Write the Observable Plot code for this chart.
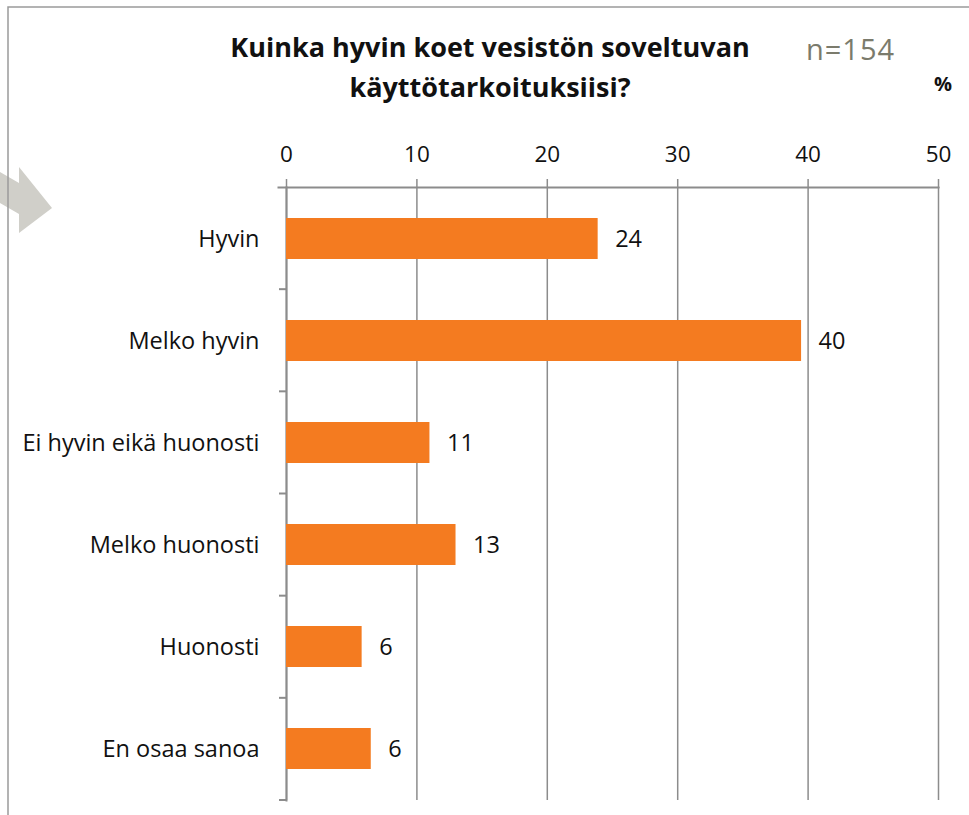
<!DOCTYPE html>
<html>
<head>
<meta charset="utf-8">
<script src="https://cdn.jsdelivr.net/npm/d3@7"></script>
<script src="https://cdn.jsdelivr.net/npm/@observablehq/plot@0.6"></script>
<style>
  html, body { margin: 0; padding: 0; background: #fff; }
  #wrap { position: relative; width: 969px; height: 815px; overflow: hidden; font-family: "Open Sans", sans-serif; }
  #deco { position: absolute; left: 0; top: 0; z-index: 2; pointer-events: none; }
  .t { position: absolute; color: #111; white-space: nowrap; z-index: 3; line-height: 1; }
</style>
</head>
<body>
<div id="wrap">
  <div id="chart"></div>
  <svg id="deco" width="969" height="815">
    <polygon points="0,172 19,183 19,167 52,208 19,233 19,214 0,203" fill="#d0cfc9"/>
    <path d="M8,815 V7 H969" fill="none" stroke="#9a9a9a" stroke-width="1.5"/>
  </svg>
  <div class="t" id="title1" style="left:0;width:980px;text-align:center;top:33px;font-size:27px;font-weight:bold;">Kuinka hyvin koet vesistön soveltuvan</div>
  <div class="t" id="title2" style="left:0;width:980px;text-align:center;top:73px;font-size:27px;font-weight:bold;">käyttötarkoituksiisi?</div>
  <div class="t" style="left:806px;top:34px;font-size:29px;letter-spacing:1px;color:#7b7b6c;">n=154</div>
  <div class="t" style="left:934px;top:74px;font-size:20px;font-weight:bold;">%</div>
</div>
<script>
const categories = ["Hyvin", "Melko hyvin", "Ei hyvin eikä huonosti", "Melko huonosti", "Huonosti", "En osaa sanoa"];
const values = [23.9, 39.5, 11.0, 13.0, 5.8, 6.5];
const valueLabels = ["24", "40", "11", "13", "6", "6"];
const xTicks = [0, 10, 20, 30, 40, 50];

const data = categories.map((c, i) => ({category: c, value: values[i], label: valueLabels[i]}));

const gridColor = "#8c8c8c";
const plot = Plot.plot({
  width: 969,
  height: 815,
  marginTop: 187,
  marginLeft: 286,
  marginRight: 31,
  marginBottom: 15,
  style: {fontFamily: "'Open Sans', sans-serif", background: "transparent", color: "#111"},
  x: {domain: [0, 50], axis: null},
  y: {domain: categories, paddingInner: 0.6, paddingOuter: 0.3, axis: null},
  marks: [
    Plot.ruleX(xTicks, {stroke: gridColor, strokeWidth: 1.5}),
    Plot.frame({anchor: "top", stroke: gridColor, strokeWidth: 2, insetLeft: -8}),
    Plot.frame({anchor: "left", stroke: gridColor, strokeWidth: 2}),
    Plot.barX(data, {x: "value", y: "category", fill: "#F47B20"}),
    Plot.text(data, {x: "value", y: "category", text: "label", textAnchor: "start", dx: 17, fontSize: 23.5, fill: "#111"}),
    Plot.axisX(xTicks, {anchor: "top", tickSize: 9, tickPadding: 17, fontSize: 22.5, stroke: gridColor, strokeWidth: 1.5, label: null, tickFormat: d => String(d)}),
    Plot.axisY({anchor: "left", tickSize: 0, tickPadding: 27, fontSize: 23.5, label: null})
  ]
});
document.getElementById("chart").appendChild(plot);

// category boundary ticks on the left axis, from the plot's y scale
const ys = plot.scale("y");
const [r0, r1] = ys.range;
const n = categories.length;
const svg = d3.select(plot);
const x0 = plot.scale("x").apply(0);
for (let k = 1; k <= n; k++) {
  const yy = r0 + k * (r1 - r0) / n;
  svg.append("line")
    .attr("x1", x0 - 7).attr("x2", x0)
    .attr("y1", yy).attr("y2", yy)
    .attr("stroke", gridColor).attr("stroke-width", 2);
}
</script>
</body>
</html>
